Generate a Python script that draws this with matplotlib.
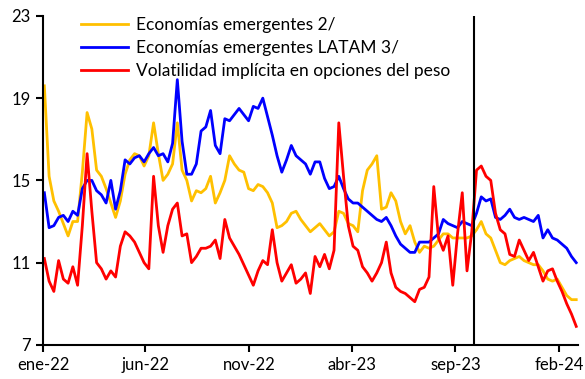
import matplotlib
matplotlib.use("Agg")
import matplotlib.pyplot as plt
import pandas as pd

# Weekly observations, starting the first Monday of 2022
start_date = "2022-01-03"

em_2 = [
    19.6, 15.2, 14.0, 13.5, 12.9, 12.3, 13.0, 13.0, 15.4, 18.3,
    17.5, 15.5, 15.2, 14.6, 13.9, 13.2, 14.0, 15.3, 16.0, 16.3,
    16.2, 15.7, 16.2, 17.8, 16.3, 15.0, 15.3, 15.8, 17.8, 15.5,
    15.0, 14.0, 14.5, 14.4, 14.6, 15.2, 13.9, 14.4, 15.0, 16.2,
    15.8, 15.5, 15.4, 14.6, 14.5, 14.8, 14.7, 14.4, 13.9, 12.7,
    12.8, 13.0, 13.4, 13.5, 13.1, 12.8, 12.5, 12.7, 12.9, 12.6,
    12.3, 12.5, 13.5, 13.4, 12.9, 12.8, 12.5, 14.5, 15.5, 15.8,
    16.2, 13.6, 13.7, 14.4, 14.0, 13.0, 12.4, 12.8, 12.0, 11.5,
    11.8, 11.7, 11.8, 12.1, 12.4, 12.4, 12.2, 12.2, 12.2, 12.2,
    12.3, 12.6, 13.0, 12.4, 12.2, 11.6, 11.0, 10.9, 11.1, 11.2,
    11.3, 11.1, 11.0, 10.9, 10.9, 10.6, 10.2, 10.1, 10.2, 9.8,
    9.4, 9.2, 9.2,
]

em_latam_3 = [
    14.4, 12.7, 12.8, 13.2, 13.3, 13.0, 13.5, 13.3, 14.6, 15.0,
    15.0, 14.5, 14.3, 13.9, 15.0, 13.6, 14.5, 16.0, 15.8, 16.1,
    16.2, 15.9, 16.3, 16.6, 16.2, 16.3, 15.9, 16.8, 19.9, 16.9,
    15.3, 15.3, 15.8, 17.4, 17.6, 18.4, 16.7, 16.3, 18.0, 17.9,
    18.2, 18.5, 18.2, 17.9, 18.6, 18.5, 19.0, 18.1, 17.2, 16.2,
    15.4, 16.0, 16.7, 16.2, 16.0, 15.8, 15.3, 15.9, 15.9, 15.1,
    14.6, 14.7, 15.2, 14.6, 14.1, 13.9, 13.9, 13.7, 13.5, 13.3,
    13.1, 13.0, 13.2, 12.8, 12.3, 11.9, 11.7, 11.5, 11.5, 12.0,
    12.0, 12.0, 12.2, 12.4, 13.1, 12.9, 12.8, 12.7, 13.0, 12.9,
    12.8, 13.4, 14.2, 14.0, 14.1, 13.2, 13.1, 13.3, 13.6, 13.2,
    13.1, 13.2, 13.1, 13.0, 13.3, 12.2, 12.6, 12.2, 12.1, 11.9,
    11.7, 11.3, 11.0,
]

peso_vol = [
    11.2, 10.1, 9.6, 11.1, 10.2, 10.0, 10.8, 9.9, 12.8, 16.3,
    13.5, 11.0, 10.7, 10.2, 10.6, 10.3, 11.8, 12.5, 12.3, 12.0,
    11.5, 11.0, 10.7, 15.2, 12.8, 11.5, 12.8, 13.6, 13.9, 12.3,
    12.4, 11.0, 11.3, 11.7, 11.7, 11.8, 12.1, 11.2, 13.1, 12.2,
    11.8, 11.4, 10.9, 10.4, 9.9, 10.6, 11.1, 10.9, 12.6, 11.0,
    10.1, 10.5, 10.9, 10.0, 10.2, 10.5, 9.5, 11.3, 10.8, 11.4,
    10.7, 11.6, 17.8, 15.2, 12.8, 11.8, 11.6, 10.8, 10.5, 10.1,
    10.5, 11.0, 12.0, 10.5, 9.8, 9.6, 9.5, 9.3, 9.1, 9.7,
    9.8, 10.3, 14.7, 12.2, 11.6, 12.3, 9.9, 12.4, 14.4, 10.6,
    12.5, 15.5, 15.7, 15.2, 15.0, 13.4, 12.6, 12.4, 11.4, 11.3,
    12.1, 11.6, 11.1, 11.5, 10.8, 10.1, 10.6, 10.7, 10.1, 9.6,
    9.0, 8.5, 7.9,
]

labels = [
    "Economías emergentes 2/",
    "Economías emergentes LATAM 3/",
    "Volatilidad implícita en opciones del peso",
]
colors = ["#FFC000", "#0000FF", "#FF0000"]

tick_dates = ["2022-01-01", "2022-06-01", "2022-11-01",
              "2023-04-01", "2023-09-01", "2024-02-01"]
tick_labels = ["ene-22", "jun-22", "nov-22", "abr-23", "sep-23", "feb-24"]
y_ticks = [7, 11, 15, 19, 23]
marker_date = "2023-09-29"

dates = pd.date_range(start_date, periods=len(em_2), freq="7D")

plt.rcParams["font.family"] = ["Lato", "DejaVu Sans"]

fig = plt.figure(figsize=(5.85, 3.79), dpi=100)
ax = fig.add_axes([0.0735, 0.09, 0.915, 0.868])

for series, label, color in zip([em_2, em_latam_3, peso_vol], labels, colors):
    ax.plot(dates, series, color=color, linewidth=2.0, label=label,
            solid_joinstyle="round")

# vertical marker at end of September 2023
ax.axvline(pd.Timestamp(marker_date), color="black", linewidth=1.5)

ax.set_ylim(7, 23)
ax.set_yticks(y_ticks)
ax.set_xlim(pd.Timestamp("2022-01-01"), pd.Timestamp("2024-02-29"))
ax.set_xticks(pd.to_datetime(tick_dates))
ax.set_xticklabels(tick_labels)

for side in ["top", "right"]:
    ax.spines[side].set_visible(False)
for side in ["left", "bottom"]:
    ax.spines[side].set_linewidth(1.5)
ax.tick_params(direction="out", length=5, width=1.5, labelsize=12,
               colors="black", pad=4)

ax.legend(loc="upper left", bbox_to_anchor=(0.058, 1.018), frameon=False,
          fontsize=12.5, handlelength=2.7, handletextpad=0.45,
          labelspacing=0.4, borderaxespad=0)

fig.savefig("out.png", dpi=100)
